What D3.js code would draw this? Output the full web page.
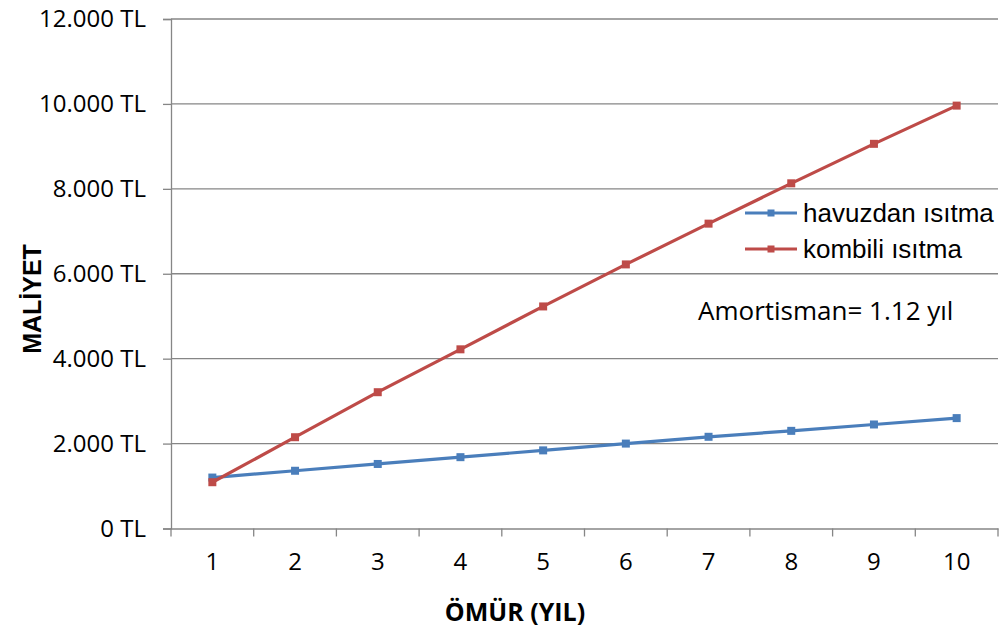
<!DOCTYPE html>
<html>
<head>
<meta charset="utf-8">
<script src="https://cdn.jsdelivr.net/npm/d3@7"></script>
<style>
  body { margin: 0; background: #fff; }
  svg { display: block; }
</style>
</head>
<body>
<svg id="chart"></svg>
<script>
const width = 1008;
const height = 633;

// chart data
const years = ['1', '2', '3', '4', '5', '6', '7', '8', '9', '10'];
const havuzdan = [1200, 1360, 1520, 1680, 1840, 2000, 2160, 2300, 2450, 2600];
const kombili = [1090, 2150, 3210, 4220, 5230, 6220, 7180, 8130, 9060, 9960];
const yTicks = [0, 2000, 4000, 6000, 8000, 10000, 12000];
const seriesNames = ['havuzdan ısıtma', 'kombili ısıtma'];
const seriesColors = ['#4a7ebb', '#be4b48'];
const note = 'Amortisman= 1.12 yıl';

const plotLeft = 171, plotRight = 998, plotTop = 19, plotBottom = 528.5;
const axisColor = '#868686';

const svg = d3.select('#chart')
  .attr('width', width)
  .attr('height', height);

const x = d3.scaleBand().domain(years).range([plotLeft, plotRight]);
const y = d3.scaleLinear().domain([0, 12000]).range([plotBottom, plotTop]);

const fmt = d => d3.format(',')(d).replace(/,/g, '.') + ' TL';

// gridlines
svg.append('g')
  .selectAll('line')
  .data(yTicks.slice(1))
  .enter().append('line')
  .attr('x1', plotLeft).attr('x2', plotRight)
  .attr('y1', d => y(d)).attr('y2', d => y(d))
  .attr('stroke', axisColor)
  .attr('stroke-width', 1.3);

// y axis
const yAxis = svg.append('g')
  .attr('transform', `translate(${plotLeft},0)`)
  .call(d3.axisLeft(y).tickValues(yTicks).tickFormat(fmt).tickSize(8).tickPadding(17));
yAxis.select('.domain').attr('stroke', axisColor).attr('stroke-width', 1.3);
yAxis.selectAll('.tick line').attr('stroke', axisColor).attr('stroke-width', 1.3);
yAxis.selectAll('.tick text')
  .attr('fill', '#000')
  .style('font-family', '"Open Sans", sans-serif')
  .style('font-size', '24px');

// x axis
const xAxis = svg.append('g')
  .attr('transform', `translate(0,${plotBottom})`)
  .call(d3.axisBottom(x).tickSize(0).tickPadding(24));
xAxis.select('.domain').attr('stroke', axisColor).attr('stroke-width', 1.3);
xAxis.selectAll('.tick text')
  .attr('fill', '#000')
  .style('font-family', '"Open Sans", sans-serif')
  .style('font-size', '24px');

// x ticks at band edges
const edges = years.map(d => x(d)).concat([plotRight]);
svg.append('g')
  .selectAll('line')
  .data(edges)
  .enter().append('line')
  .attr('x1', d => d).attr('x2', d => d)
  .attr('y1', plotBottom).attr('y2', plotBottom + 8)
  .attr('stroke', axisColor)
  .attr('stroke-width', 1.3);

// lines
const line = d3.line()
  .x((d, i) => x(years[i]) + x.bandwidth() / 2)
  .y(d => y(d));

[havuzdan, kombili].forEach((values, k) => {
  svg.append('path')
    .datum(values)
    .attr('d', line)
    .attr('fill', 'none')
    .attr('stroke', seriesColors[k])
    .attr('stroke-width', 3.2);

  svg.append('g')
    .selectAll('rect')
    .data(values)
    .enter().append('rect')
    .attr('x', (d, i) => x(years[i]) + x.bandwidth() / 2 - 4)
    .attr('y', d => y(d) - 4)
    .attr('width', 8).attr('height', 8)
    .attr('fill', seriesColors[k]);
});

// legend
const legend = svg.append('g');
seriesNames.forEach((name, k) => {
  const ly = 213 + k * 36;
  legend.append('line')
    .attr('x1', 745).attr('x2', 797)
    .attr('y1', ly).attr('y2', ly)
    .attr('stroke', seriesColors[k])
    .attr('stroke-width', 3.2);
  legend.append('rect')
    .attr('x', 771 - 3.5).attr('y', ly - 3.5)
    .attr('width', 7).attr('height', 7)
    .attr('fill', seriesColors[k]);
  legend.append('text')
    .attr('x', 803).attr('y', ly + 9)
    .style('font-family', '"Liberation Sans", Arial, sans-serif')
    .style('font-size', '26px')
    .text(name);
});

// note
svg.append('text')
  .attr('x', 698).attr('y', 320)
  .style('font-family', '"Open Sans", sans-serif')
  .style('font-size', '26px')
  .text(note);

// axis titles
svg.append('text')
  .attr('x', 515).attr('y', 621)
  .attr('text-anchor', 'middle')
  .style('font-family', '"Open Sans", sans-serif')
  .style('font-weight', 'bold')
  .style('font-size', '25px')
  .text('ÖMÜR (YIL)');

svg.append('text')
  .attr('transform', 'translate(41,299) rotate(-90)')
  .attr('text-anchor', 'middle')
  .style('font-family', '"Liberation Sans", Arial, sans-serif')
  .style('font-weight', 'bold')
  .style('font-size', '25px')
  .text('MALİYET');
</script>
</body>
</html>
